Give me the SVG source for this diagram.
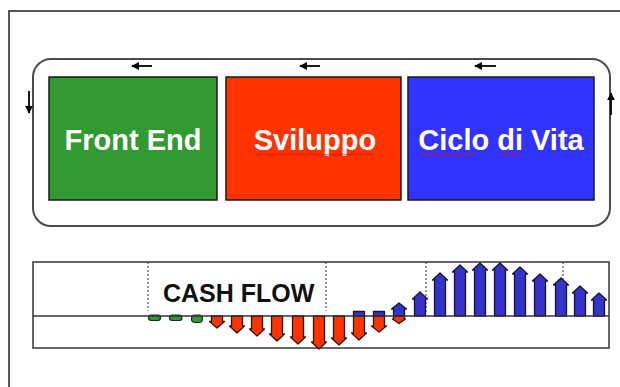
<svg xmlns="http://www.w3.org/2000/svg" width="620" height="387" viewBox="0 0 620 387">
  <style>
    .frame { stroke: #222; stroke-width: 1.5; fill: none; }
    .loop { stroke: #4a4a4a; stroke-width: 2; fill: none; }
    .phase { stroke: #1a1a1a; stroke-width: 1.5; }
    .label { font-family: "Liberation Sans", Arial, sans-serif; font-weight: bold; font-size: 29px; fill: #fff; text-anchor: middle; }
    .flow { stroke: #000; stroke-width: 1.8; fill: none; }
    .chart { stroke: #333; stroke-width: 1.5; fill: #fff; }
    .axis { stroke: #333; stroke-width: 1.5; }
    .grid { stroke: #333; stroke-width: 1; stroke-dasharray: 2 2; }
    .title { font-family: "Liberation Sans", Arial, sans-serif; font-weight: bold; font-size: 25px; fill: #111; }
    .in { fill: #3333cc; stroke: #15152e; stroke-width: 1.3; stroke-linejoin: round; }
    .out { fill: #ff3300; stroke: #2e150c; stroke-width: 1.3; stroke-linejoin: round; }
    .pre { fill: #339933; stroke: #15301a; stroke-width: 1.2; }
  </style>
  <defs>
    <marker id="head-lg" viewBox="0 0 10 10" refX="9" refY="5" markerWidth="8" markerHeight="8" orient="auto" markerUnits="userSpaceOnUse">
      <path d="M0,0 L10,5 L0,10 Z" fill="#000"/>
    </marker>
    <pattern id="squiggle" width="4" height="3" patternUnits="userSpaceOnUse">
      <path d="M0,0.5 L2,2.5 L4,0.5" stroke="#e00000" stroke-width="0.9" fill="none"/>
    </pattern>
  </defs>

  <rect width="620" height="387" fill="#fff"/>

  <!-- page frame -->
  <path class="frame" d="M9,387 V11 H620"/>

  <!-- cycle loop and its direction arrows -->
  <g id="connectors">
    <rect class="loop" x="33" y="59" width="577" height="167" rx="18" ry="18"/>
    <line class="flow" x1="152" y1="66" x2="132" y2="66" marker-end="url(#head-lg)"/>
    <line class="flow" x1="320" y1="66" x2="300" y2="66" marker-end="url(#head-lg)"/>
    <line class="flow" x1="496" y1="66" x2="475" y2="66" marker-end="url(#head-lg)"/>
    <line class="flow" x1="29" y1="91" x2="29" y2="113" marker-end="url(#head-lg)"/>
    <line class="flow" x1="611" y1="115" x2="611" y2="93" marker-end="url(#head-lg)"/>
  </g>

  <!-- lifecycle phases -->
  <g id="front-end">
    <rect class="phase" x="49" y="77" width="168" height="123" fill="#339933"/>
    <text class="label" x="133" y="150">Front End</text>
  </g>
  <g id="sviluppo">
    <rect class="phase" x="226" y="77" width="175" height="123" fill="#ff3300"/>
    <text class="label" x="315" y="150">Sviluppo</text>
    <rect x="256" y="153" width="118" height="3" fill="url(#squiggle)"/>
  </g>
  <g id="ciclo-di-vita">
    <rect class="phase" x="408" y="77" width="186" height="123" fill="#3333ff"/>
    <text class="label" x="501" y="150">Ciclo di Vita</text>
    <rect x="420" y="153" width="54" height="3" fill="url(#squiggle)"/>
    <rect x="499" y="153" width="22" height="3" fill="url(#squiggle)"/>
  </g>

  <!-- cash flow chart -->
  <g id="cash-flow">
    <rect class="chart" x="33" y="262" width="576" height="86"/>
    <line class="grid" x1="148" y1="262" x2="148" y2="311"/>
    <line class="grid" x1="326" y1="262" x2="326" y2="311"/>
    <line class="grid" x1="426" y1="262" x2="426" y2="312"/>
    <line class="grid" x1="563" y1="262" x2="563" y2="280"/>
    <text class="title" x="163" y="302">CASH FLOW</text>

    <!-- early spending -->
    <rect class="pre" x="148.5" y="315" width="12" height="5.5" rx="2.7"/>
    <rect class="pre" x="169.5" y="315" width="12.5" height="5.5" rx="2.7"/>
    <rect class="pre" x="191.5" y="315" width="11" height="7.5" rx="3.5"/>

    <!-- outflows -->
    <path class="out" d="M211.5,316 V321.5 H209.5 L217,328 L224.5,321.5 H222.5 V316 Z"/>
    <path class="out" d="M231.5,316 V326 H229.5 L237,333 L244.5,326 H242.5 V316 Z"/>
    <path class="out" d="M251.5,316 V329 H249.5 L257,336 L264.5,329 H262.5 V316 Z"/>
    <path class="out" d="M271.5,316 V334 H269.5 L277,341 L284.5,334 H282.5 V316 Z"/>
    <path class="out" d="M292.5,316 V337 H290.5 L298,344 L305.5,337 H303.5 V316 Z"/>
    <path class="out" d="M313.5,316 V342 H311.5 L319,349 L326.5,342 H324.5 V316 Z"/>
    <path class="out" d="M333.5,316 V338 H331.5 L339,345 L346.5,338 H344.5 V316 Z"/>
    <path class="out" d="M353.5,316 V333 H351.5 L359,340 L366.5,333 H364.5 V316 Z"/>
    <path class="out" d="M373.5,316 V326 H371.5 L379,332 L386.5,326 H384.5 V316 Z"/>
    <path class="out" d="M393.5,316 V319 H392.5 L399,323.5 L405.5,319 H404.5 V316 Z"/>

    <!-- inflows -->
    <rect class="in" x="353.5" y="311.5" width="11" height="4.5"/>
    <rect class="in" x="373.5" y="311.5" width="11" height="4.5"/>
    <path class="in" d="M393.5,316 V309 H391.5 L399,303 L406.5,309 H404.5 V316 Z"/>
    <path class="in" d="M414.5,316 V299 H412.5 L420,292 L427.5,299 H425.5 V316 Z"/>
    <path class="in" d="M434.5,316 V280 H432.5 L440,273 L447.5,280 H445.5 V316 Z"/>
    <path class="in" d="M454.5,316 V272 H452.5 L460,265 L467.5,272 H465.5 V316 Z"/>
    <path class="in" d="M474.5,316 V270 H472.5 L480,263 L487.5,270 H485.5 V316 Z"/>
    <path class="in" d="M494.5,316 V270 H492.5 L500,263 L507.5,270 H505.5 V316 Z"/>
    <path class="in" d="M514.5,316 V274 H512.5 L520,267 L527.5,274 H525.5 V316 Z"/>
    <path class="in" d="M534.5,316 V281 H532.5 L540,274 L547.5,281 H545.5 V316 Z"/>
    <path class="in" d="M555.5,316 V285 H553.5 L561,278 L568.5,285 H566.5 V316 Z"/>
    <path class="in" d="M574.5,316 V293 H572.5 L580,286 L587.5,293 H585.5 V316 Z"/>
    <path class="in" d="M593.5,316 V300 H591.5 L599,293 L606.5,300 H604.5 V316 Z"/>

    <line class="axis" x1="33" y1="316" x2="609" y2="316"/>
  </g>
</svg>
